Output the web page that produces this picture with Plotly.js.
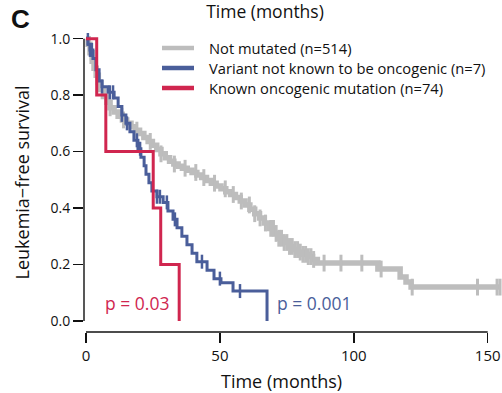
<!DOCTYPE html>
<html>
<head>
<meta charset="utf-8">
<script src="https://cdn.plot.ly/plotly-3.0.1.min.js"></script>
<style>html,body{margin:0;padding:0;background:#fff;}#chart{width:502px;height:393px;}</style>
</head>
<body>
<div id="chart"></div>
<script>
// ---- data ----
var seriesNames = ["Not mutated (n=514)", "Variant not known to be oncogenic (n=7)", "Known oncogenic mutation (n=74)"];
var seriesColors = ["#BDBDBD", "#4A5E9A", "#D0264F"];

var grayTime = [0, 0.8, 1.5, 2.3, 3.0, 3.8, 4.6, 5.4, 6.5, 7.8, 9.0, 10.5, 12.0, 13.6, 15.2, 16.8, 18.4, 20.0, 21.6, 23.2, 24.8, 26.4, 28.0, 29.6, 31.2, 32.8, 34.4, 36.0, 37.8, 39.6, 41.4, 43.2, 45.0, 46.8, 48.6, 50.4, 52.2, 54.0, 55.8, 57.6, 59.4, 61.2, 63.0, 64.8, 66.6, 68.4, 70.2, 72.0, 73.8, 75.6, 77.4, 79.2, 81.0, 82.8, 84.6, 86.4, 109.0, 117.3, 119.5, 121.4, 154.6];
var graySurv = [1.0, 0.98, 0.95, 0.92, 0.895, 0.87, 0.845, 0.82, 0.795, 0.775, 0.755, 0.74, 0.725, 0.712, 0.70, 0.688, 0.676, 0.664, 0.65, 0.636, 0.622, 0.607, 0.592, 0.578, 0.566, 0.556, 0.548, 0.541, 0.534, 0.526, 0.517, 0.508, 0.498, 0.488, 0.478, 0.468, 0.458, 0.448, 0.437, 0.425, 0.411, 0.396, 0.38, 0.365, 0.347, 0.328, 0.31, 0.293, 0.278, 0.264, 0.253, 0.244, 0.236, 0.228, 0.218, 0.205, 0.184, 0.156, 0.138, 0.12, 0.12];
var grayCensor = [2, 5, 9, 14, 19, 24, 28, 33, 37, 41, 44, 48, 52, 55, 58, 61, 63, 65, 67, 69, 70, 71, 72, 73, 74, 75, 76, 77, 78, 79, 80, 81, 82, 83, 84, 85, 88.9, 95.2, 103, 110.2, 121.8, 146.2, 153.5, 154.6];

var blueTime = [0, 0.75, 1.5, 2.6, 3.7, 4.9, 6.0, 8.2, 10.5, 12.0, 13.4, 14.9, 16.4, 17.9, 19.4, 20.5, 21.7, 22.4, 23.5, 24.6, 26.5, 28.8, 30.6, 32.5, 34.0, 35.8, 37.7, 39.6, 41.4, 45.2, 47.8, 50.4, 54.9, 67.6];
var blueSurv = [1.0, 0.98, 0.96, 0.93, 0.89, 0.85, 0.83, 0.81, 0.79, 0.76, 0.73, 0.70, 0.67, 0.64, 0.61, 0.58, 0.55, 0.52, 0.49, 0.46, 0.44, 0.42, 0.39, 0.36, 0.33, 0.30, 0.27, 0.24, 0.21, 0.18, 0.15, 0.135, 0.106, 0.0];
var blueCensor = [0.7, 1.5, 2.2, 6.0, 8.9, 10.1, 13.4, 15.3, 19.0, 20.2, 26.5, 27.6, 30.2, 33.2, 43.3, 50.0, 57.5];

var redTime = [0, 4.0, 7.4, 25.1, 27.9, 34.8];
var redSurv = [1.0, 0.8, 0.6, 0.4, 0.2, 0.0];

var xTicks = [0, 50, 100, 150];
var yTicks = [0.0, 0.2, 0.4, 0.6, 0.8, 1.0];
var pLabels = ["p = 0.03", "p = 0.001"];
var pTimes = [19, 85];     // label centre (months)
var pLevel = 0.065;        // label level

// ---- helpers ----
function stepAt(times, surv, t) {
  var v = surv[0];
  for (var i = 0; i < times.length; i++) { if (times[i] <= t) v = surv[i]; }
  return v;
}
function censorY(times, surv, cs) { return cs.map(function (t) { return stepAt(times, surv, t); }); }

var font = "Open Sans, Noto Sans, sans-serif";
var ink = "#111";

var traces = [
  {x: grayTime, y: graySurv, mode: "lines", line: {shape: "hv", color: seriesColors[0], width: 5.5}, showlegend: false, hoverinfo: "skip"},
  {x: grayCensor, y: censorY(grayTime, graySurv, grayCensor), mode: "markers", marker: {symbol: "line-ns-open", size: 12, color: seriesColors[0], line: {color: seriesColors[0], width: 3}}, showlegend: false, hoverinfo: "skip"},
  {x: blueTime, y: blueSurv, mode: "lines", line: {shape: "hv", color: seriesColors[1], width: 3}, showlegend: false, hoverinfo: "skip"},
  {x: blueCensor, y: censorY(blueTime, blueSurv, blueCensor), mode: "markers", marker: {symbol: "line-ns-open", size: 10, color: seriesColors[1], line: {color: seriesColors[1], width: 2.5}}, showlegend: false, hoverinfo: "skip"},
  {x: redTime, y: redSurv, mode: "lines", line: {shape: "hv", color: seriesColors[2], width: 3}, showlegend: false, hoverinfo: "skip"}
];

// manual legend (pixel-matched)
var L = 84, R = 502, T = 33, B = 332;
function px2x(p) { return (p - L) / (R - L); }
function py2y(p) { return (B - p) / (B - T); }
var legendRows = [48, 68, 88];
var shapes = [
  {type: "line", xref: "x", yref: "paper", x0: xTicks[0], x1: xTicks[xTicks.length - 1], y0: 0, y1: 0, line: {color: ink, width: 1.4}},
  {type: "line", xref: "paper", yref: "y", x0: 0, x1: 0, y0: yTicks[0], y1: yTicks[yTicks.length - 1], line: {color: ink, width: 1.4}}
];
var annotations = [];
for (var i = 0; i < 3; i++) {
  shapes.push({type: "line", xref: "paper", yref: "paper", x0: px2x(162), x1: px2x(194), y0: py2y(legendRows[i]), y1: py2y(legendRows[i]), line: {color: seriesColors[i], width: 4.5}});
  annotations.push({xref: "paper", yref: "paper", x: px2x(207), y: py2y(legendRows[i]), xanchor: "left", yanchor: "middle", showarrow: false, text: seriesNames[i], font: {family: font, size: 14.7, color: ink}});
}
annotations.push({xref: "x", yref: "y", x: pTimes[0], y: pLevel, xanchor: "center", yanchor: "middle", showarrow: false, text: pLabels[0], font: {family: font, size: 17.5, color: seriesColors[2]}});
annotations.push({xref: "x", yref: "y", x: pTimes[1], y: pLevel, xanchor: "center", yanchor: "middle", showarrow: false, text: pLabels[1], font: {family: font, size: 17.5, color: seriesColors[1]}});
annotations.push({xref: "x", yref: "paper", x: 73, y: py2y(381), xanchor: "center", yanchor: "middle", showarrow: false, text: "Time (months)", font: {family: font, size: 18, color: ink}});
annotations.push({xref: "paper", yref: "paper", x: px2x(21), y: py2y(19), xanchor: "center", yanchor: "middle", showarrow: false, text: "<b>C</b>", font: {family: "Liberation Sans, Arial, sans-serif", size: 26, color: ink}});

var layout = {
  width: 502, height: 393,
  margin: {l: L, r: 502 - R, t: T, b: 393 - B, pad: 0},
  paper_bgcolor: "#fff", plot_bgcolor: "#fff",
  showlegend: false,
  title: {text: "Time (months)", font: {family: font, size: 17.5, color: ink}, xref: "container", yref: "container", x: 265 / 502, y: 1 - 12 / 393, xanchor: "center", yanchor: "middle"},
  xaxis: {range: [-0.747, 155.34], tickvals: xTicks, ticktext: xTicks.map(String), ticks: "outside", ticklen: 10, tickwidth: 1.4, tickcolor: ink, showgrid: false, zeroline: false, showline: false, tickfont: {family: font, size: 15, color: ink}, fixedrange: true},
  yaxis: {range: [-0.039, 1.02], tickvals: yTicks, ticktext: yTicks.map(function (v) { return v.toFixed(1); }), ticks: "outside", ticklen: 10, tickwidth: 1.4, tickcolor: ink, showgrid: false, zeroline: false, showline: false, tickfont: {family: font, size: 14, color: ink}, title: {text: "Leukemia−free survival", font: {family: font, size: 18, color: ink}, standoff: 16}, fixedrange: true},
  shapes: shapes,
  annotations: annotations
};

Plotly.newPlot("chart", traces, layout, {displayModeBar: false, staticPlot: true});
</script>
</body>
</html>
